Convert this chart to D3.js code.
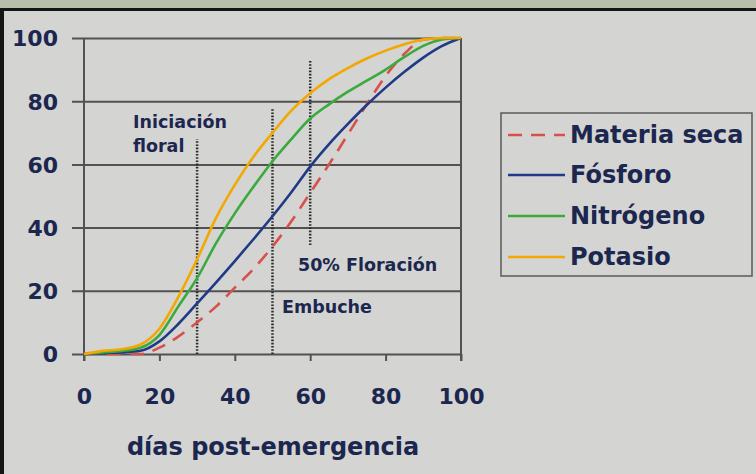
<!DOCTYPE html>
<html><head><meta charset="utf-8">
<script src="https://cdn.jsdelivr.net/npm/d3@7"></script>
<style>
html,body{margin:0;padding:0;background:#d4d4d2;}
svg{display:block;}
</style></head>
<body>
<svg id="c" width="756" height="474"></svg>
<script>
const days = [0,5,10,15,20,25,30,35,40,45,50,55,60,65,70,75,80,85,90,95,100];
const materiaSeca = [0,0,0,0,2,5.5,10,15,21,27,34,42,51,60,69.5,79,88,95,99.5,100,100];
const fosforo     = [0,0.3,0.5,1,4,9.5,16,22.6,29.4,36.4,43.6,51.2,59.3,66.4,72.8,78.8,84.3,89.3,93.8,97.5,100];
const nitrogeno   = [0,0.5,1,2,6,15,24,35,44.5,53,61,68,74.5,79,83,86.5,90,94,97.5,99.5,100];
const potasio     = [0,1,1.5,3,8,18,30,43,53.5,62.5,70,77,82.5,87,90.5,93.5,96,98,99.5,100,100];
const seriesNames = ["Materia seca","Fósforo","Nitrógeno","Potasio"];
const seriesColors = ["#d8504a","#1f3a86","#3aaa3c","#f2a800"];
const xTicks = [0,20,40,60,80,100];
const yTicks = [0,20,40,60,80,100];
const xTitle = "días post-emergencia";
// annotation markers: day, y from, y to
const markerDays = [30,50,60];
const markerFrom = [0,0,34.5];
const markerTo   = [68,78,93];
const annoLabels = [["Iniciación","floral"],["Embuche"],["50% Floración"]];

const svg = d3.select("#c");
const navy = "#1c2750";
const font = "'DejaVu Sans', sans-serif";

// frame
svg.append("rect").attr("x",0).attr("y",0).attr("width",756).attr("height",474).attr("fill","#d4d4d2");
svg.append("rect").attr("x",0).attr("y",0).attr("width",756).attr("height",8).attr("fill","#b8bea9");
svg.append("line").attr("x1",0).attr("x2",756).attr("y1",9.5).attr("y2",9.5).attr("stroke","#151515").attr("stroke-width",3);
svg.append("line").attr("x1",2).attr("x2",2).attr("y1",8).attr("y2",474).attr("stroke","#151515").attr("stroke-width",4);

const x = d3.scaleLinear().domain([0,100]).range([84,461]);
const y = d3.scaleLinear().domain([0,100]).range([354,38]);

// y axis with gridlines
const yAxis = svg.append("g").attr("transform","translate(72,0)")
  .call(d3.axisLeft(y).tickValues(yTicks).tickSize(-(461-72)).tickPadding(14));
yAxis.select(".domain").remove();
yAxis.selectAll(".tick line").attr("stroke","#525252").attr("stroke-width",2);
yAxis.selectAll(".tick text").attr("fill",navy).attr("font-family",font).attr("font-weight","bold").attr("font-size",22).attr("dy","0.36em");

// x axis
const xAxis = svg.append("g").attr("transform","translate(0,354)")
  .call(d3.axisBottom(x).tickValues(xTicks).tickSize(7).tickPadding(32));
xAxis.select(".domain").remove();
xAxis.selectAll(".tick line").attr("stroke","#525252").attr("stroke-width",2);
xAxis.selectAll(".tick text").attr("fill",navy).attr("font-family",font).attr("font-weight","bold").attr("font-size",22).attr("dy","0.5em");

// vertical axis lines
svg.append("line").attr("x1",x(0)).attr("x2",x(0)).attr("y1",y(100)).attr("y2",361).attr("stroke","#525252").attr("stroke-width",2);
svg.append("line").attr("x1",x(100)).attr("x2",x(100)).attr("y1",y(100)).attr("y2",361).attr("stroke","#525252").attr("stroke-width",2);

// axis title
svg.append("text").attr("x",273).attr("y",455).attr("text-anchor","middle")
  .attr("fill",navy).attr("font-family",font).attr("font-weight","bold").attr("font-size",24).text(xTitle);

// markers
markerDays.forEach((d,i)=>{
  svg.append("line").attr("x1",x(d)).attr("x2",x(d)).attr("y1",y(markerFrom[i])).attr("y2",y(markerTo[i]))
    .attr("stroke","#2a2a2a").attr("stroke-width",2.5).attr("stroke-dasharray","1.6,1.6");
});

// series
const allSeries = [materiaSeca,fosforo,nitrogeno,potasio];
const line = d3.line().x((d,i)=>x(days[i])).y(d=>y(d)).curve(d3.curveMonotoneX);
[0,1,2,3].forEach(k=>{
  svg.append("path").datum(allSeries[k]).attr("d",line).attr("fill","none")
    .attr("stroke",seriesColors[k]).attr("stroke-width",2.6)
    .attr("stroke-dasharray", k===0 ? "14,9" : null)
    .attr("stroke-linecap","butt");
});

// annotations
const annoX = [133,282,298];
const annoY = [128,313,271];
annoLabels.forEach((lines,i)=>{
  lines.forEach((t,j)=>{
    svg.append("text").attr("x",annoX[i]).attr("y",annoY[i]+j*24)
      .attr("fill",navy).attr("font-family",font).attr("font-weight","bold").attr("font-size",17.5).text(t);
  });
});

// legend
svg.append("rect").attr("x",501).attr("y",113).attr("width",251).attr("height",163)
  .attr("fill","none").attr("stroke","#5a5a5a").attr("stroke-width",1.5);
const legBase = [143,183,224,265];
seriesNames.forEach((n,k)=>{
  svg.append("line").attr("x1",508).attr("x2",565).attr("y1",legBase[k]-8).attr("y2",legBase[k]-8)
    .attr("stroke",seriesColors[k]).attr("stroke-width",2.6)
    .attr("stroke-dasharray", k===0 ? "14,9" : null);
  svg.append("text").attr("x",570).attr("y",legBase[k]).attr("fill",navy)
    .attr("font-family",font).attr("font-weight","bold").attr("font-size",24).text(n);
});
</script>
</body></html>
